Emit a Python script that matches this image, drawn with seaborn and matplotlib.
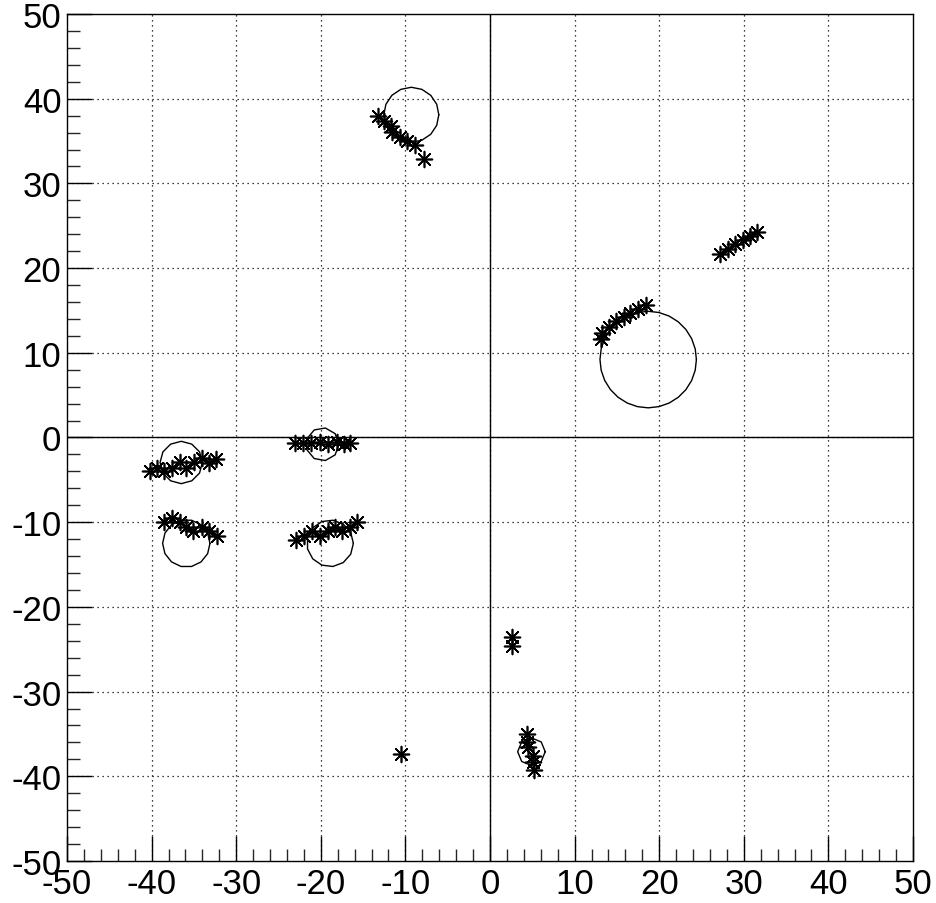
import numpy as np
import pandas as pd
import matplotlib
matplotlib.use("Agg")
import matplotlib.pyplot as plt
from matplotlib.ticker import MultipleLocator
import seaborn as sns

# Hit positions (asterisks), grouped by track segment
hits_a_x = [-13.2, -12.5, -11.7, -11.6, -10.6, -9.8, -8.9, -7.8]
hits_a_y = [37.9, 37.4, 36.8, 36.1, 35.5, 35.0, 34.5, 32.9]

hits_b_x = [13.1, 13.2, 14.1, 14.9, 15.8, 16.6, 17.5, 18.4]
hits_b_y = [11.6, 12.3, 13.1, 13.7, 14.2, 14.7, 15.2, 15.7]

hits_c_x = [27.2, 28.1, 29.0, 29.9, 30.7, 31.6]
hits_c_y = [21.7, 22.3, 22.8, 23.3, 23.8, 24.3]

hits_d_x = [-40.2, -39.4, -38.5, -37.6, -36.7, -35.9, -35.0, -34.1, -33.2, -32.4]
hits_d_y = [-4.0, -3.6, -4.0, -3.6, -2.9, -3.6, -2.9, -2.4, -3.0, -2.5]

hits_e_x = [-23.0, -22.1, -21.1, -20.1, -19.1, -18.1, -17.3, -16.5]
hits_e_y = [-0.7, -0.6, -0.7, -0.5, -0.8, -0.5, -0.8, -0.6]

hits_f_x = [-38.5, -37.6, -36.7, -35.9, -35.1, -34.1, -33.2, -32.3]
hits_f_y = [-10.0, -9.5, -10.0, -10.6, -11.1, -10.6, -11.1, -11.6]

hits_g_x = [-22.9, -22.0, -21.0, -20.1, -19.2, -18.3, -17.5, -16.5, -15.7]
hits_g_y = [-12.1, -11.6, -11.1, -11.6, -11.1, -10.6, -11.1, -10.6, -10.0]

hits_h_x = [2.6, 2.6, 4.4, 4.4, 4.5, 5.1, 5.1, 5.2, -10.5]
hits_h_y = [-23.6, -24.6, -35.0, -35.9, -36.5, -37.6, -38.3, -39.3, -37.4]

# Fitted circles: centre and radius
circle_x = [-9.3, 18.7, -36.5, -19.8, -35.9, -18.9, 4.9]
circle_y = [38.1, 9.2, -2.95, -0.8, -12.5, -12.5, -37.1]
circle_r = [3.25, 5.7, 2.5, 1.95, 2.8, 2.75, 1.63]

tick_values = list(range(-50, 51, 10))

hits = pd.DataFrame({
    "x": hits_a_x + hits_b_x + hits_c_x + hits_d_x + hits_e_x + hits_f_x + hits_g_x + hits_h_x,
    "y": hits_a_y + hits_b_y + hits_c_y + hits_d_y + hits_e_y + hits_f_y + hits_g_y + hits_h_y,
})

sns.set_style("white")
plt.rcParams["font.family"] = ["Liberation Sans", "DejaVu Sans"]

fig = plt.figure(figsize=(9.36, 9.04), dpi=100)
ax = fig.add_axes([0.0716, 0.0465, 0.9038, 0.9369])
ax.set_xlim(-50, 50)
ax.set_ylim(-50, 50)

# dotted grid and solid zero lines
for v in tick_values[1:-1]:
    ax.axvline(v, color="black", lw=0.9, ls=(0, (1, 3)), zorder=1)
    ax.axhline(v, color="black", lw=0.9, ls=(0, (1, 3)), zorder=1)
ax.axvline(0, color="black", lw=1.0, zorder=2)
ax.axhline(0, color="black", lw=1.0, zorder=2)

# circles drawn as polygons
px_per_unit = 8.46
for cx, cy, r in zip(circle_x, circle_y, circle_r):
    n = max(8, int(r * px_per_unit * 0.6))
    t = np.linspace(0, 2 * np.pi, n + 1)
    ax.plot(cx + r * np.cos(t), cy + r * np.sin(t), color="black", lw=1.0, zorder=3)

sns.scatterplot(data=hits, x="x", y="y", ax=ax, marker=(8, 2, 0), s=130,
                color="black", linewidth=1.2, edgecolor="black", zorder=4, legend=False)

ax.set_xlabel("")
ax.set_ylabel("")
ax.set_xticks(tick_values)
ax.set_yticks(tick_values)
ax.set_xticklabels([str(v) for v in tick_values])
ax.set_yticklabels([str(v) for v in tick_values])
ax.xaxis.set_minor_locator(MultipleLocator(2))
ax.yaxis.set_minor_locator(MultipleLocator(2))
ax.tick_params(axis="both", which="major", direction="in", length=18, width=1.0,
               labelsize=25, colors="black", bottom=True, left=True, top=False, right=False)
ax.tick_params(axis="both", which="minor", direction="in", length=9, width=1.0,
               bottom=True, left=True, top=False, right=False)
ax.tick_params(axis="x", which="major", pad=4)
ax.tick_params(axis="y", which="major", pad=4)
for s in ax.spines.values():
    s.set_color("black")
    s.set_linewidth(1.0)

fig.savefig("out.png", dpi=100, facecolor="white")
